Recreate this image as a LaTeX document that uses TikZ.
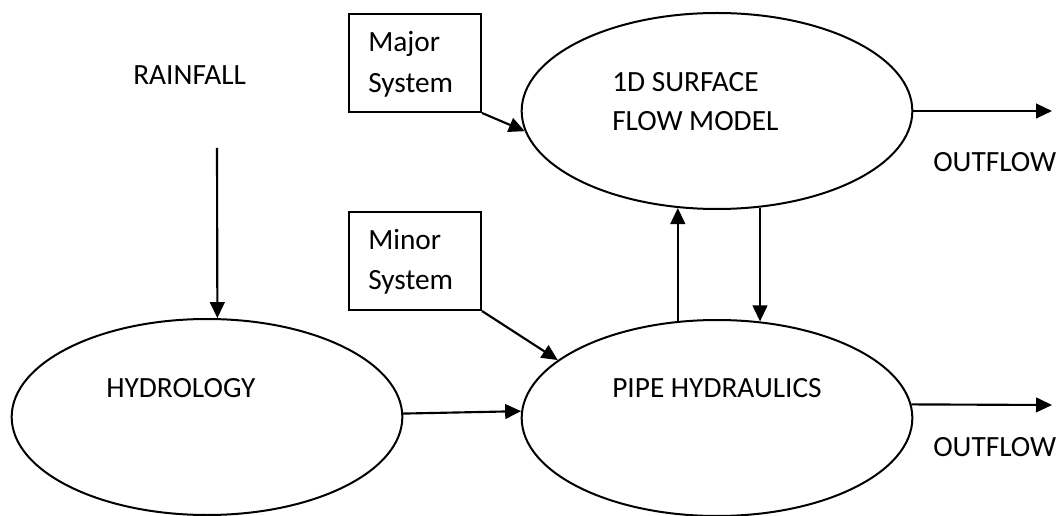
\documentclass[tikz,border=0pt]{standalone}
\usepackage{fontspec}
\setmainfont{Carlito}
\usetikzlibrary{shapes.geometric,arrows.meta}
\begin{document}
\begin{tikzpicture}[x=0.75pt,y=-0.75pt,
  every node/.style={font=\fontsize{22}{26}\selectfont},
  oval/.style={draw,ellipse,line width=1.5pt,inner sep=0pt,
    minimum width=293pt,minimum height=147pt},
  sysbox/.style={draw,rectangle,line width=1.5pt,inner sep=0pt,anchor=north west,
    minimum width=99pt,minimum height=73.5pt},
  txt/.style={anchor=base west,inner sep=0pt},
  flow/.style={line width=1.6pt,-{Triangle[length=12pt,width=11pt]}}]
\useasboundingbox (0,0) rectangle (1062,516);

% process ovals
\node[oval] (surf)  at (717,111) {};
\node[oval] (pipe)  at (717,418) {};
\node[oval] (hydro) at (207,417) {};

% system boxes
\node[sysbox] (major) at (348,13) {};
\node[sysbox] (minor) at (348,211) {};

% labels
\node[txt] (rain)  at (133,85)  {RAINFALL};
\node[txt] (maj1)  at (368,52)  {Major};
\node[txt] (maj2)  at (368,93)  {System};
\node[txt] (min1)  at (368,250) {Minor};
\node[txt] (min2)  at (368,290) {System};
\node[txt] (surf1) at (612,92)  {1D SURFACE};
\node[txt] (surf2) at (612,131) {FLOW MODEL};
\node[txt] (hyd)   at (106,397) {HYDROLOGY};
\node[txt] (pip)   at (612,397) {PIPE HYDRAULICS};
\node[txt] (out1)  at (933,172) {OUTFLOW};
\node[txt] (out2)  at (933,456) {OUTFLOW};

% free ends of connectors
\coordinate (rainend) at (217,148);
\coordinate (outA) at (1052,111);
\coordinate (outB) at (1052,405);

% connectors
\draw[flow] (rainend) -- (hydro.84);
\draw[flow] (hydro.1.5) -- (pipe.178);
\draw[flow] (major.south east) -- (surf.186);
\draw[flow] (minor.south east) -- (pipe.160);
\draw[flow] (pipe.112) -- (surf.248);
\draw[flow] (surf.294) -- (pipe.66);
\draw[flow] (surf.east) -- (outA);
\draw[flow] (pipe.4) -- (outB);
\end{tikzpicture}
\end{document}
